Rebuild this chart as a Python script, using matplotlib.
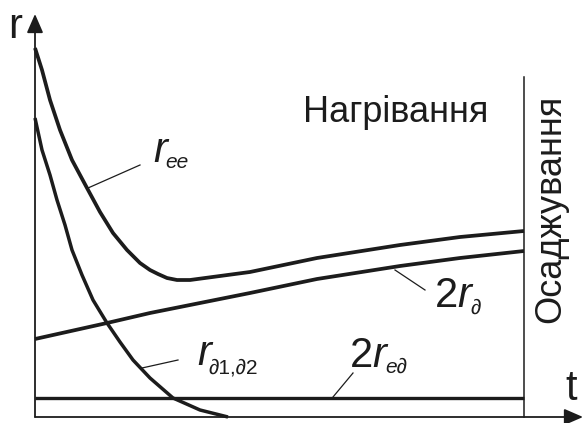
import matplotlib
matplotlib.use('Agg')
import matplotlib.pyplot as plt
import numpy as np

plt.rcParams['font.family'] = ['Liberation Sans', 'DejaVu Sans']

# curves (t, r) in arbitrary units
t_ee = [0, 7, 15, 25, 37, 52, 65, 78, 92, 105, 115, 123, 132, 142, 155, 170, 185, 215, 282, 365, 425, 489]
r_ee = [369, 347, 317, 287, 257, 229, 205, 184, 167, 154, 147, 143, 139, 137, 137, 139, 141, 145, 159, 172, 180, 186]

t_d2 = [0, 72, 115, 165, 215, 282, 365, 425, 489]
r_d2 = [78, 94, 104, 114, 124, 138, 151, 159, 166]

t_d12 = [0, 7, 15, 22, 30, 37, 47, 58, 72, 85, 98, 115, 138, 165, 193]
r_d12 = [299, 267, 242, 217, 192, 167, 142, 117, 94, 75, 57, 39, 19, 7, 0]

t_ed = [0, 489]
r_ed = [19, 19]

t_switch = 489  # heating -> deposition

ink = '#1c1c1c'

fig = plt.figure(figsize=(5.83, 4.23), dpi=100)
ax = fig.add_axes([0, 0, 1, 1])
ax.set_xlim(-35, 548)
ax.set_ylim(-6, 417)
ax.axis('off')

# axes with arrow heads
arrow = dict(arrowstyle='-|>,head_length=1.15,head_width=0.5', lw=1.3,
             color=ink, shrinkA=0, shrinkB=0)
ax.annotate('', xy=(0, 403), xytext=(0, 0), arrowprops=arrow)
ax.annotate('', xy=(548, 0), xytext=(0, 0), arrowprops=arrow)

curve = dict(color=ink, solid_capstyle='butt', solid_joinstyle='round')
ax.plot(t_ee, r_ee, lw=2.7, **curve)
ax.plot(t_d2, r_d2, lw=2.7, **curve)
ax.plot(t_d12, r_d12, lw=2.5, **curve)
ax.plot(t_ed, r_ed, lw=2.4, **curve)
ax.plot([t_switch, t_switch], [0, 340], color=ink, lw=1.1)

# leader lines
leaders = [((53, 229), (105, 252)),
           ((360, 147), (390, 127)),
           ((298, 20), (318, 44)),
           ((107, 49), (143, 57))]
for (x0, y0), (x1, y1) in leaders:
    ax.plot([x0, x1], [y0, y1], color=ink, lw=0.9)

main = dict(fontsize=30, color=ink, va='baseline', ha='left')
sub = dict(fontsize=15, color=ink, va='baseline', ha='left')

ax.text(-27, 379, 'r', **main)
ax.text(530, 17, 't', **main)
ax.text(268, 295, 'Нагрівання', fontsize=26, color=ink, va='baseline', ha='left')
ax.text(516, 208, 'Осаджування', fontsize=26, color=ink, rotation=90,
        va='center', ha='center')

# curve labels
ax.text(118, 255, 'r', style='italic', **main)
ax.text(130, 249, 'ee', style='italic', **sub)

ax.text(400, 110, '2', **main)
ax.text(422, 110, 'r', style='italic', **main)
ax.text(435, 103, '∂', style='italic', **sub)

ax.text(315, 50, '2', **main)
ax.text(337, 50, 'r', style='italic', **main)
ax.text(350, 44, 'e∂', style='italic', **sub)

ax.text(162, 52, 'r', style='italic', **main)
ax.text(173, 44, '∂1,∂2', **sub)

fig.savefig('out.png', dpi=100)
